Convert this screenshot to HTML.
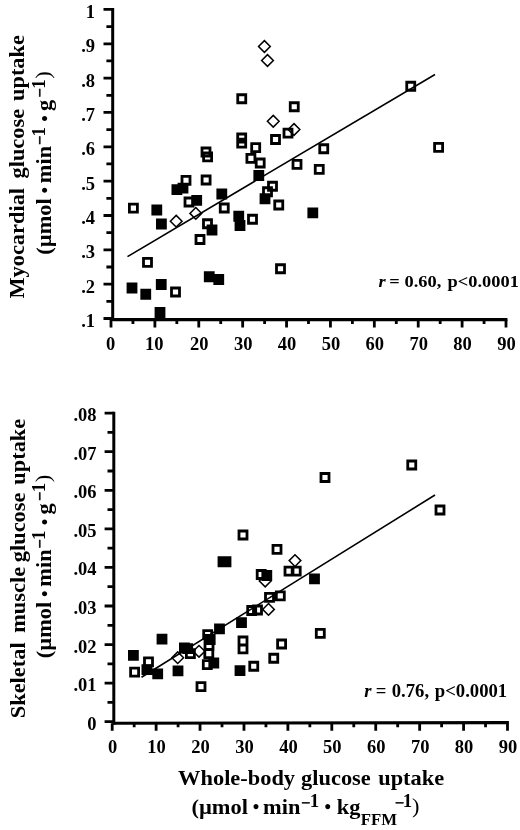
<!DOCTYPE html>
<html><head><meta charset="utf-8"><title>Glucose uptake</title>
<style>
html,body{margin:0;padding:0;background:#fff}
svg{display:block}
text{font-family:"Liberation Serif","DejaVu Serif",serif;font-weight:bold;fill:#000}
.t{font-size:18.5px}
.l{font-size:22.4px;word-spacing:2.5px}
.r{font-size:18.4px}
</style></head><body>
<svg width="520" height="830" viewBox="0 0 520 830">
<rect width="520" height="830" fill="#fff"/>
<g id="top">
<path d="M127.5 256.6L435 74.5" stroke="#000" stroke-width="1.6" fill="none"/>
<path d="M176.20 215.35L182.05 221.20L176.20 227.05L170.35 221.20ZM195.80 207.55L201.65 213.40L195.80 219.25L189.95 213.40ZM264.40 40.65L270.25 46.50L264.40 52.35L258.55 46.50ZM267.50 54.65L273.35 60.50L267.50 66.35L261.65 60.50ZM273.25 115.40L279.10 121.25L273.25 127.10L267.40 121.25ZM294.00 123.65L299.85 129.50L294.00 135.35L288.15 129.50Z" stroke="#000" stroke-width="1.5" fill="none"/>
<path d="M129.40 204.10h8v8h-8ZM143.50 258.30h8v8h-8ZM171.50 288.00h8v8h-8ZM182.00 176.30h8v8h-8ZM185.00 198.00h8v8h-8ZM202.10 176.00h8v8h-8ZM202.00 148.00h8v8h-8ZM203.60 152.90h8v8h-8ZM203.50 219.75h8v8h-8ZM196.00 235.50h8v8h-8ZM220.25 204.00h8v8h-8ZM237.70 134.00h8v8h-8ZM237.70 139.10h8v8h-8ZM237.75 94.75h8v8h-8ZM251.70 143.60h8v8h-8ZM246.90 154.30h8v8h-8ZM256.20 159.00h8v8h-8ZM248.50 215.25h8v8h-8ZM263.50 187.75h8v8h-8ZM268.50 182.25h8v8h-8ZM274.75 201.00h8v8h-8ZM271.50 135.50h8v8h-8ZM284.00 129.10h8v8h-8ZM290.25 102.75h8v8h-8ZM293.00 160.30h8v8h-8ZM315.25 165.40h8v8h-8ZM319.75 144.75h8v8h-8ZM276.50 264.75h8v8h-8ZM406.75 82.25h8v8h-8ZM434.60 143.30h8v8h-8Z" stroke="#000" stroke-width="2.8" fill="none" stroke-linejoin="miter"/>
<path d="M126.60 282.60h10.8v10.8h-10.8ZM140.35 288.85h10.8v10.8h-10.8ZM155.85 279.10h10.8v10.8h-10.8ZM154.60 307.10h10.8v10.8h-10.8ZM151.40 204.60h10.8v10.8h-10.8ZM156.00 218.60h10.8v10.8h-10.8ZM171.50 184.20h10.8v10.8h-10.8ZM177.60 182.70h10.8v10.8h-10.8ZM191.30 195.00h10.8v10.8h-10.8ZM203.85 271.35h10.8v10.8h-10.8ZM213.35 274.10h10.8v10.8h-10.8ZM206.60 224.60h10.8v10.8h-10.8ZM216.40 188.60h10.8v10.8h-10.8ZM233.35 210.85h10.8v10.8h-10.8ZM234.60 220.10h10.8v10.8h-10.8ZM253.40 170.10h10.8v10.8h-10.8ZM259.60 193.35h10.8v10.8h-10.8ZM307.40 207.50h10.8v10.8h-10.8Z" fill="#000"/>
<path d="M112.7 8.05V321.10" stroke="#000" stroke-width="3" fill="none"/>
<path d="M112.7 319.6L507.40 319.6" stroke="#000" stroke-width="3.1" fill="none"/>
<path d="M103.50 9.45H112.7M106.40 26.62H112.7M103.50 43.79H112.7M106.40 60.96H112.7M103.50 78.13H112.7M106.40 95.30H112.7M103.50 112.47H112.7M106.40 129.64H112.7M103.50 146.81H112.7M106.40 163.97H112.7M103.50 181.14H112.7M106.40 198.31H112.7M103.50 215.48H112.7M106.40 232.65H112.7M103.50 249.82H112.7M106.40 266.99H112.7M103.50 284.16H112.7M106.40 301.33H112.7M103.50 318.50H112.7" stroke="#000" stroke-width="2.8" fill="none"/>
<path d="M111.00 319.6V327.4M132.94 319.6V323.9M154.89 319.6V327.4M176.83 319.6V323.9M198.78 319.6V327.4M220.72 319.6V323.9M242.67 319.6V327.4M264.61 319.6V323.9M286.56 319.6V327.4M308.50 319.6V323.9M330.44 319.6V327.4M352.39 319.6V323.9M374.33 319.6V327.4M396.28 319.6V323.9M418.22 319.6V327.4M440.17 319.6V323.9M462.11 319.6V327.4M484.06 319.6V323.9M506.00 319.6V327.4" stroke="#000" stroke-width="2.8" fill="none"/>
<text class="t" x="95" y="17.95" text-anchor="end">1</text>
<text class="t" x="95" y="52.29" text-anchor="end">.9</text>
<text class="t" x="95" y="86.63" text-anchor="end">.8</text>
<text class="t" x="95" y="120.97" text-anchor="end">.7</text>
<text class="t" x="95" y="155.31" text-anchor="end">.6</text>
<text class="t" x="95" y="189.64" text-anchor="end">.5</text>
<text class="t" x="95" y="223.98" text-anchor="end">.4</text>
<text class="t" x="95" y="258.32" text-anchor="end">.3</text>
<text class="t" x="95" y="292.66" text-anchor="end">.2</text>
<text class="t" x="95" y="327.00" text-anchor="end">.1</text>
<text class="t" x="110.50" y="350.3" text-anchor="middle">0</text>
<text class="t" x="154.29" y="350.3" text-anchor="middle">10</text>
<text class="t" x="199.28" y="350.3" text-anchor="middle">20</text>
<text class="t" x="243.17" y="350.3" text-anchor="middle">30</text>
<text class="t" x="287.06" y="350.3" text-anchor="middle">40</text>
<text class="t" x="330.94" y="350.3" text-anchor="middle">50</text>
<text class="t" x="374.83" y="350.3" text-anchor="middle">60</text>
<text class="t" x="418.72" y="350.3" text-anchor="middle">70</text>
<text class="t" x="462.61" y="350.3" text-anchor="middle">80</text>
<text class="t" x="506.50" y="350.3" text-anchor="middle">90</text>
</g>
<g id="bottom">
<path d="M141.5 677.3L435 495" stroke="#000" stroke-width="1.6" fill="none"/>
<path d="M177.70 651.85L183.55 657.70L177.70 663.55L171.85 657.70ZM199.00 645.45L204.85 651.30L199.00 657.15L193.15 651.30ZM268.50 603.55L274.35 609.40L268.50 615.25L262.65 609.40ZM265.20 575.15L271.05 581.00L265.20 586.85L259.35 581.00ZM295.00 554.75L300.85 560.60L295.00 566.45L289.15 560.60Z" stroke="#000" stroke-width="1.5" fill="none"/>
<path d="M130.60 668.20h8v8h-8ZM144.50 657.90h8v8h-8ZM186.40 649.60h8v8h-8ZM197.00 682.60h8v8h-8ZM203.70 630.70h8v8h-8ZM205.00 641.50h8v8h-8ZM204.80 649.60h8v8h-8ZM203.30 660.70h8v8h-8ZM239.00 637.00h8v8h-8ZM239.00 644.90h8v8h-8ZM249.75 662.25h8v8h-8ZM269.75 654.25h8v8h-8ZM277.60 640.00h8v8h-8ZM316.30 629.40h8v8h-8ZM247.70 606.50h8v8h-8ZM253.50 606.00h8v8h-8ZM265.50 593.40h8v8h-8ZM276.30 591.80h8v8h-8ZM257.20 570.50h8v8h-8ZM285.00 567.20h8v8h-8ZM292.20 567.20h8v8h-8ZM239.00 531.00h8v8h-8ZM273.00 545.40h8v8h-8ZM321.00 473.50h8v8h-8ZM407.75 461.00h8v8h-8ZM436.00 506.00h8v8h-8Z" stroke="#000" stroke-width="2.8" fill="none" stroke-linejoin="miter"/>
<path d="M128.00 649.90h10.8v10.8h-10.8ZM141.50 664.20h10.8v10.8h-10.8ZM152.30 668.50h10.8v10.8h-10.8ZM156.60 633.80h10.8v10.8h-10.8ZM172.60 665.40h10.8v10.8h-10.8ZM179.00 642.40h10.8v10.8h-10.8ZM182.30 643.30h10.8v10.8h-10.8ZM204.80 634.10h10.8v10.8h-10.8ZM208.40 657.60h10.8v10.8h-10.8ZM214.10 623.40h10.8v10.8h-10.8ZM236.10 617.30h10.8v10.8h-10.8ZM234.60 665.20h10.8v10.8h-10.8ZM217.60 556.35h10.8v10.8h-10.8ZM220.60 556.35h10.8v10.8h-10.8ZM261.40 570.10h10.8v10.8h-10.8ZM309.10 573.40h10.8v10.8h-10.8Z" fill="#000"/>
<path d="M113.8 411.75V724.80" stroke="#000" stroke-width="3" fill="none"/>
<path d="M113.8 723.3L508.90 722.6" stroke="#000" stroke-width="3.1" fill="none"/>
<path d="M104.60 413.15H113.8M107.50 432.43H113.8M104.60 451.72H113.8M107.50 471.00H113.8M104.60 490.29H113.8M107.50 509.57H113.8M104.60 528.86H113.8M107.50 548.14H113.8M104.60 567.42H113.8M107.50 586.71H113.8M104.60 605.99H113.8M107.50 625.28H113.8M104.60 644.56H113.8M107.50 663.85H113.8M104.60 683.13H113.8M107.50 702.42H113.8M104.60 721.70H113.8" stroke="#000" stroke-width="2.8" fill="none"/>
<path d="M112.20 723.3V730.8M134.16 723.3V727.3M156.12 723.3V730.8M178.08 723.3V727.3M200.04 723.3V730.8M222.01 723.3V727.3M243.97 723.3V730.8M265.93 723.3V727.3M287.89 723.3V730.8M309.85 723.3V727.3M331.81 723.3V730.8M353.77 723.3V727.3M375.73 723.3V730.8M397.69 723.3V727.3M419.66 723.3V730.8M441.62 723.3V727.3M463.58 723.3V730.8M485.54 723.3V727.3M507.50 723.3V730.8" stroke="#000" stroke-width="2.8" fill="none"/>
<text class="t" x="96.5" y="421.15" text-anchor="end">.08</text>
<text class="t" x="96.5" y="459.72" text-anchor="end">.07</text>
<text class="t" x="96.5" y="498.29" text-anchor="end">.06</text>
<text class="t" x="96.5" y="536.86" text-anchor="end">.05</text>
<text class="t" x="96.5" y="575.42" text-anchor="end">.04</text>
<text class="t" x="96.5" y="613.99" text-anchor="end">.03</text>
<text class="t" x="96.5" y="652.56" text-anchor="end">.02</text>
<text class="t" x="96.5" y="691.13" text-anchor="end">.01</text>
<text class="t" x="96.5" y="729.70" text-anchor="end">0</text>
<text class="t" x="112.70" y="752.7" text-anchor="middle">0</text>
<text class="t" x="156.62" y="752.7" text-anchor="middle">10</text>
<text class="t" x="200.54" y="752.7" text-anchor="middle">20</text>
<text class="t" x="244.47" y="752.7" text-anchor="middle">30</text>
<text class="t" x="288.39" y="752.7" text-anchor="middle">40</text>
<text class="t" x="332.31" y="752.7" text-anchor="middle">50</text>
<text class="t" x="376.23" y="752.7" text-anchor="middle">60</text>
<text class="t" x="420.16" y="752.7" text-anchor="middle">70</text>
<text class="t" x="464.08" y="752.7" text-anchor="middle">80</text>
<text class="t" x="508.00" y="752.7" text-anchor="middle">90</text>
</g>
<text class="l" transform="translate(23.6 298.2) rotate(-90) scale(1.04 1)"><tspan x="-0.40" y="0.00" font-size="21.54">Myocardial</tspan> <tspan x="115.07" y="0.00" font-size="21.54">glucose</tspan> <tspan x="189.60" y="0.00" font-size="21.54">uptake</tspan></text>
<text class="l" transform="translate(51 253.8) rotate(-90) scale(1.04 1)"><tspan x="-0.90" y="0.00" font-size="21.54">(µmol</tspan> <tspan x="57.95" y="-0.30" font-size="17.79">•</tspan> <tspan x="67.96" y="0.00" font-size="21.54">min</tspan> <tspan x="104.78" y="-5.90" font-size="15.38" stroke="#000" stroke-width="0.45">−</tspan> <tspan x="112.83" y="-6.20" font-size="18.27">1</tspan> <tspan x="126.99" y="-0.30" font-size="17.79">•</tspan> <tspan x="137.38" y="0.00" font-size="21.54">g</tspan> <tspan x="150.64" y="-5.90" font-size="15.38" stroke="#000" stroke-width="0.45">−</tspan> <tspan x="158.69" y="-6.20" font-size="18.27">1</tspan> <tspan x="168.43" y="-0.70" font-size="21.54" font-weight="normal">)</tspan></text>
<text class="l" transform="translate(24.6 717.1) rotate(-90) scale(1.04 1)"><tspan x="-1.10" y="0.00" font-size="21.54">Skeletal</tspan> <tspan x="81.03" y="0.00" font-size="21.54">muscle</tspan> <tspan x="148.92" y="0.00" font-size="21.54">glucose</tspan> <tspan x="223.45" y="0.00" font-size="21.54">uptake</tspan></text>
<text class="l" transform="translate(51 657.3) rotate(-90) scale(1.04 1)"><tspan x="-0.90" y="0.00" font-size="21.54">(µmol</tspan> <tspan x="57.95" y="-0.30" font-size="17.79">•</tspan> <tspan x="67.96" y="0.00" font-size="21.54">min</tspan> <tspan x="104.78" y="-5.90" font-size="15.38" stroke="#000" stroke-width="0.45">−</tspan> <tspan x="112.83" y="-6.20" font-size="18.27">1</tspan> <tspan x="126.99" y="-0.30" font-size="17.79">•</tspan> <tspan x="137.38" y="0.00" font-size="21.54">g</tspan> <tspan x="150.64" y="-5.90" font-size="15.38" stroke="#000" stroke-width="0.45">−</tspan> <tspan x="158.69" y="-6.20" font-size="18.27">1</tspan> <tspan x="168.43" y="-0.70" font-size="21.54" font-weight="normal">)</tspan></text>
<text class="l" transform="translate(178.4 785.3) scale(1.04 1)"><tspan x="-0.30" y="0.00" font-size="21.54">Whole-body</tspan> <tspan x="117.96" y="0.00" font-size="21.54">glucose</tspan> <tspan x="192.10" y="0.00" font-size="21.54">uptake</tspan></text>
<text class="l" transform="translate(192.4 813.6) scale(1.04 1)"><tspan x="-0.90" y="0.00" font-size="21.54">(µmol</tspan> <tspan x="57.95" y="-0.30" font-size="17.79">•</tspan> <tspan x="67.96" y="0.00" font-size="21.54">min</tspan> <tspan x="104.78" y="-5.90" font-size="15.38" stroke="#000" stroke-width="0.45">−</tspan> <tspan x="112.83" y="-6.20" font-size="18.27">1</tspan> <tspan x="126.99" y="-0.30" font-size="17.79">•</tspan> <tspan x="138.73" y="0.00" font-size="21.54">kg</tspan> <tspan x="161.82" y="10.90" font-size="16.15">FFM</tspan> <tspan x="194.87" y="-5.90" font-size="15.38" stroke="#000" stroke-width="0.45">−</tspan> <tspan x="202.25" y="-6.20" font-size="18.27">1</tspan> <tspan x="211.22" y="-0.70" font-size="21.54" font-weight="normal">)</tspan></text>
<text class="r" transform="translate(0 287) scale(1.04 1)"><tspan x="363.93" y="0.00" font-size="17.69" font-style="italic">r</tspan> <tspan x="374.29" y="0.00" font-size="17.69">=</tspan> <tspan x="389.01" y="0.00" font-size="17.69">0.60,</tspan> <tspan x="430.38" y="0.00" font-size="17.69">p&lt;0.0001</tspan></text>
<text class="r" transform="translate(0 697) scale(1.04 1)"><tspan x="350.18" y="0.00" font-size="17.98" font-style="italic">r</tspan> <tspan x="361.41" y="0.00" font-size="17.98">=</tspan> <tspan x="376.70" y="0.00" font-size="17.98">0.76,</tspan> <tspan x="418.07" y="0.00" font-size="17.98">p&lt;0.0001</tspan></text>
</svg>
</body></html>
